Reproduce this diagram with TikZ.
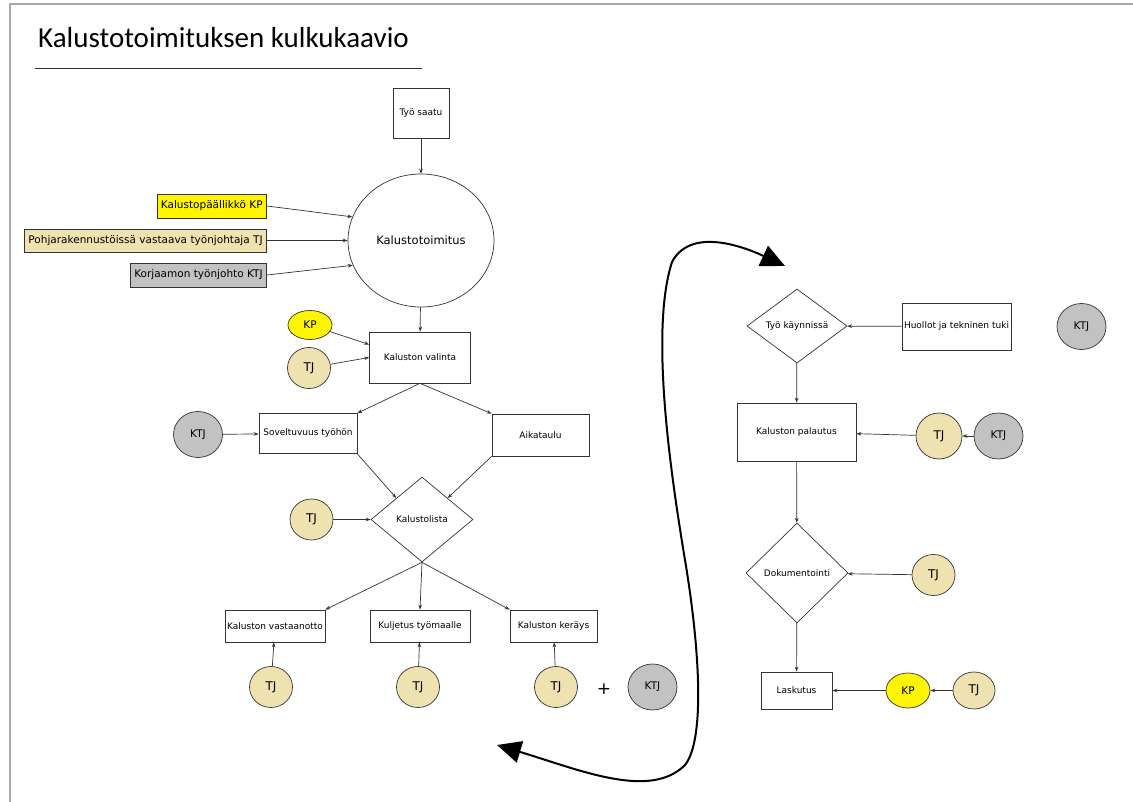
\documentclass[tikz,border=0pt]{standalone}
\usepackage{fontspec}
\setmainfont{DejaVu Sans}
\newfontfamily\titlefont{Carlito}
\usetikzlibrary{arrows.meta,shapes.geometric}
\definecolor{kkInk}{HTML}{333333}
\definecolor{kkFrame}{HTML}{A8A8A8}
\definecolor{kkYellow}{HTML}{FFF500}
\definecolor{kkTan}{HTML}{EEE2B0}
\definecolor{kkGrey}{HTML}{C2C2C2}
\tikzset{
  kk/base/.style={draw=kkInk, line width=0.7pt, align=center, inner sep=0pt,
    text=black},
  kk/box/.style={kk/base, rectangle, fill=white,
    font=\fontsize{9}{11}\selectfont},
  kk/decision/.style={kk/base, diamond, fill=white,
    font=\fontsize{9}{11}\selectfont},
  kk/hub/.style={kk/base, ellipse, fill=white, minimum width=146pt,
    minimum height=133pt, font=\fontsize{11.5}{13}\selectfont},
  kk/role/.style={kk/base, rectangle, minimum height=24pt, inner xsep=4pt,
    font=\fontsize{10.5}{12}\selectfont},
  kk/actor/.style={kk/base, ellipse, minimum width=43pt, minimum height=41pt,
    font=\fontsize{10.5}{12}\selectfont},
  kk/kp/.style={kk/actor, fill=kkYellow, minimum width=44pt, minimum height=32pt},
  kk/tj/.style={kk/actor, fill=kkTan, font=\fontsize{12}{14}\selectfont},
  kk/ktj/.style={kk/actor, fill=kkGrey, minimum width=49pt, minimum height=46pt},
  kk/arrow/.style={-{Stealth[length=5pt,width=3.6pt]}, draw=kkInk,
    line width=0.7pt},
  kk/loop/.style={{Triangle[length=24pt,width=22pt]}-{Triangle[length=24pt,width=22pt]},
    draw=black, line width=2pt},
  kk/frame/.style={draw=kkFrame, line width=1.5pt},
  kk/title/.style={font=\titlefont\fontsize{29}{32}\selectfont, inner sep=0pt},
}

\begin{document}
\begin{tikzpicture}[x=1pt, y=-1pt]
\useasboundingbox (0,0) rectangle (1133,802);
\draw[kk/frame] (10,802) -- (10,4) -- (1133,4);
% title
\node[kk/title, anchor=base west] (title) at (38,48) {Kalustotoimituksen kulkukaavio};
\draw[line width=0.8pt, draw=kkInk] (35,68) -- (422,68);

% left column: start and hub
\node[kk/box, minimum width=56pt, minimum height=50pt] (saatu) at (421,113) {Työ saatu};
\node[kk/hub] (hub) at (421,240.5) {Kalustotoimitus};
\node[kk/role, fill=kkYellow, anchor=east] (roleKP) at (267,206) {Kalustopäällikkö KP};
\node[kk/role, fill=kkTan, anchor=east, minimum height=23pt] (roleTJ) at (267,240.5) {Pohjarakennustöissä vastaava työnjohtaja TJ};
\node[kk/role, fill=kkGrey, anchor=east] (roleKTJ) at (267,275) {Korjaamon työnjohto KTJ};

\node[kk/box, minimum width=101pt, minimum height=51pt] (valinta) at (420,357.5) {Kaluston valinta};
\node[kk/kp, minimum height=29pt] (kpV) at (310,325) {KP};
\node[kk/tj] (tjV) at (309,368) {TJ};

\node[kk/box, minimum width=98pt, minimum height=40pt] (soveltuvuus) at (308,433.5) {Soveltuvuus työhön};
\node[kk/box, minimum width=97pt, minimum height=42pt] (aikataulu) at (540.5,435) {Aikataulu};
\node[kk/ktj] (ktjS) at (198,434.5) {KTJ};

\node[kk/decision, minimum width=102pt, minimum height=85pt] (lista) at (422,519.5) {Kalustolista};
\node[kk/tj] (tjL) at (311.5,519.5) {TJ};

\node[kk/box, minimum width=100pt, minimum height=32pt] (vastaanotto) at (275,626) {Kaluston vastaanotto};
\node[kk/box, minimum width=100pt, minimum height=32pt] (kuljetus) at (420,626) {Kuljetus työmaalle};
\node[kk/box, minimum width=87pt, minimum height=32pt] (keraus) at (553.5,626) {Kaluston keräys};
\node[kk/tj] (tjA) at (271,687) {TJ};
\node[kk/tj] (tjB) at (418,687) {TJ};
\node[kk/tj] (tjC) at (556,687) {TJ};
\node[font=\fontsize{17}{18}\selectfont] (plus) at (604,689) {+};
\node[kk/ktj] (ktjC) at (652.5,687) {KTJ};

% right column
\node[kk/decision, minimum width=100pt, minimum height=74pt] (kaynnissa) at (797,326) {Työ käynnissä};
\node[kk/box, minimum width=109pt, minimum height=47pt] (huollot) at (956.5,326.5) {Huollot ja tekninen tuki};
\node[kk/ktj] (ktjH) at (1081.5,326.5) {KTJ};

\node[kk/box, minimum width=119pt, minimum height=58pt] (palautus) at (796.5,432) {Kaluston palautus};
\node[kk/tj, minimum width=46pt, minimum height=46pt] (tjP) at (939,436) {TJ};
\node[kk/ktj] (ktjP) at (998.5,436) {KTJ};

\node[kk/decision, minimum width=102pt, minimum height=100pt] (dok) at (797,573) {Dokumentointi};
\node[kk/tj] (tjD) at (933.5,575) {TJ};

\node[kk/box, minimum width=71pt, minimum height=37pt] (laskutus) at (796.5,690.5) {Laskutus};
\node[kk/kp, minimum height=35pt] (kpL) at (908,690.5) {KP};
\node[kk/tj, minimum width=42pt, minimum height=37pt] (tjLa) at (974,690.5) {TJ};

% connectors
\draw[kk/arrow] (saatu) -- (hub);
\draw[kk/arrow] (roleKP.east) -- (hub.161);
\draw[kk/arrow] (roleTJ.east) -- (hub.west);
\draw[kk/arrow] (roleKTJ.east) -- (hub.200);
\draw[kk/arrow] (hub) -- (valinta);
\draw[kk/arrow] (kpV) -- ([yshift=13pt]valinta.west);
\draw[kk/arrow] (tjV) -- (valinta.west);
\draw[kk/arrow] (valinta.south) -- (soveltuvuus.north east);
\draw[kk/arrow] (valinta.south) -- (aikataulu.north west);
\draw[kk/arrow] (ktjS) -- (soveltuvuus);
\draw[kk/arrow] (soveltuvuus.south east) -- (lista.north west);
\draw[kk/arrow] (aikataulu.south west) -- (lista.north east);
\draw[kk/arrow] (tjL) -- (lista);
\draw[kk/arrow] (lista.south) -- (vastaanotto.north east);
\draw[kk/arrow] (lista.south) -- (kuljetus.north);
\draw[kk/arrow] (lista.south) -- (keraus.north west);
\draw[kk/arrow] (tjA) -- (vastaanotto);
\draw[kk/arrow] (tjB) -- (kuljetus);
\draw[kk/arrow] (tjC) -- (keraus);

\draw[kk/arrow] (huollot) -- (kaynnissa);
\draw[kk/arrow] (kaynnissa) -- (palautus);
\draw[kk/arrow] (ktjP) -- (tjP);
\draw[kk/arrow] (tjP) -- (palautus);
\draw[kk/arrow] (palautus) -- (dok);
\draw[kk/arrow] (tjD) -- (dok);
\draw[kk/arrow] (dok) -- (laskutus);
\draw[kk/arrow] (tjLa) -- (kpL);
\draw[kk/arrow] (kpL) -- (laskutus);

% big loop between the columns
\coordinate (loopEnd) at (497,745);
\coordinate (loopStart) at (785,266);
\draw[kk/loop] (loopEnd) .. controls (580,770) and (650,800) .. (685,765)
  .. controls (705,740) and (700,650) .. (685,560)
  .. controls (670,470) and (650,330) .. (672,262)
  .. controls (690,228) and (740,245) .. (loopStart);
\end{tikzpicture}
\end{document}
